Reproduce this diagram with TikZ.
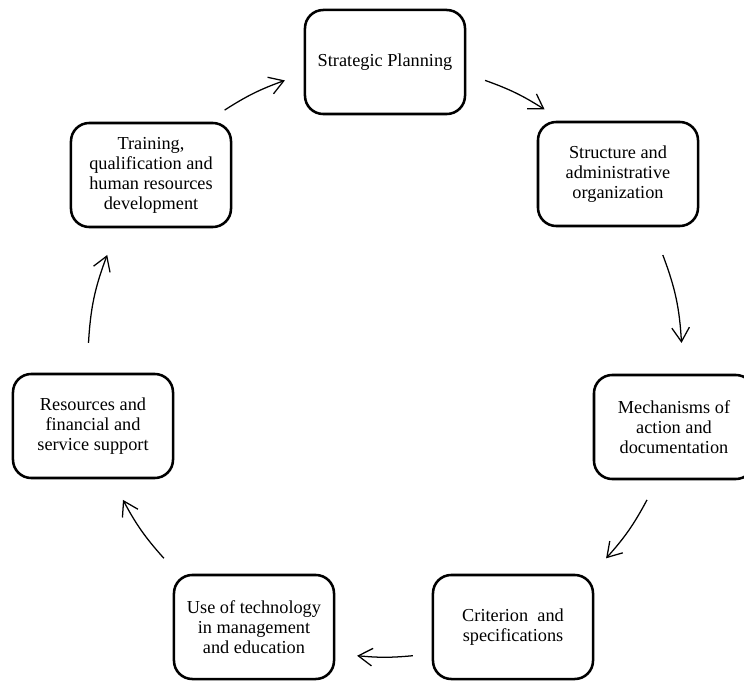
\documentclass[tikz,border=0pt]{standalone}
\usepackage{fontspec}
\setmainfont{Liberation Serif}
\usetikzlibrary{arrows.meta}
\tikzset{
  stagebox/.style={draw, line width=1.8pt, rounded corners=13pt,
    minimum width=4cm, minimum height=2.6cm, align=center, inner sep=2pt,
    font=\fontsize{13}{14.2}\selectfont},
  cyclearrow/.style={line width=0.9pt,
    -{Straight Barb[length=10pt,width=12.5pt,line width=0.9pt]}},
}
\begin{document}
\begin{tikzpicture}[x=0.025cm,y=0.025cm]
  \useasboundingbox (0,0) rectangle (744,680);

  % Drawing the stages of the cycle
  \node[stagebox] (plan)   at (385,618) {Strategic Planning};
  \node[stagebox] (struct) at (618,506) {Structure and\\ administrative\\ organization};
  \node[stagebox] (mech)   at (674,253) {Mechanisms of\\ action and\\ documentation};
  \node[stagebox] (crit)   at (513,53)  {Criterion\ \ and\\ specifications};
  \node[stagebox] (tech)   at (254,53)  {Use of technology\\ in management\\ and education};
  \node[stagebox] (res)    at (93,254)  {Resources and\\ financial and\\ service support};
  \node[stagebox] (train)  at (151,505) {Training,\\ qualification and\\ human resources\\ development};

  % Drawing arrows between the stages
  \draw[cyclearrow] ([shift={(73.6,64.9)}]train.center)  to[bend left=6.5] ([shift={(-100.1,-18.4)}]plan.center);
  \draw[cyclearrow] ([shift={(100.1,-18.4)}]plan.center) to[bend left=6.4] ([shift={(-73.4,64.5)}]struct.center);
  \draw[cyclearrow] ([shift={(44.8,-81)}]struct.center)  to[bend left=8.7] ([shift={(7.5,84.1)}]mech.center);
  \draw[cyclearrow] ([shift={(-27,-72.9)}]mech.center)   to[bend left=6.9] ([shift={(93.1,68.7)}]crit.center);
  \draw[cyclearrow] ([shift={(-100.1,-28.7)}]crit.center) to[bend left=5.4] ([shift={(103.1,-28.7)}]tech.center);
  \draw[cyclearrow] ([shift={(-90.1,68.7)}]tech.center)  to[bend left=6.9] ([shift={(30,-73.9)}]res.center);
  \draw[cyclearrow] ([shift={(-4.5,83.1)}]res.center)    to[bend left=8.7] ([shift={(-43.8,-80)}]train.center);
\end{tikzpicture}
\end{document}
